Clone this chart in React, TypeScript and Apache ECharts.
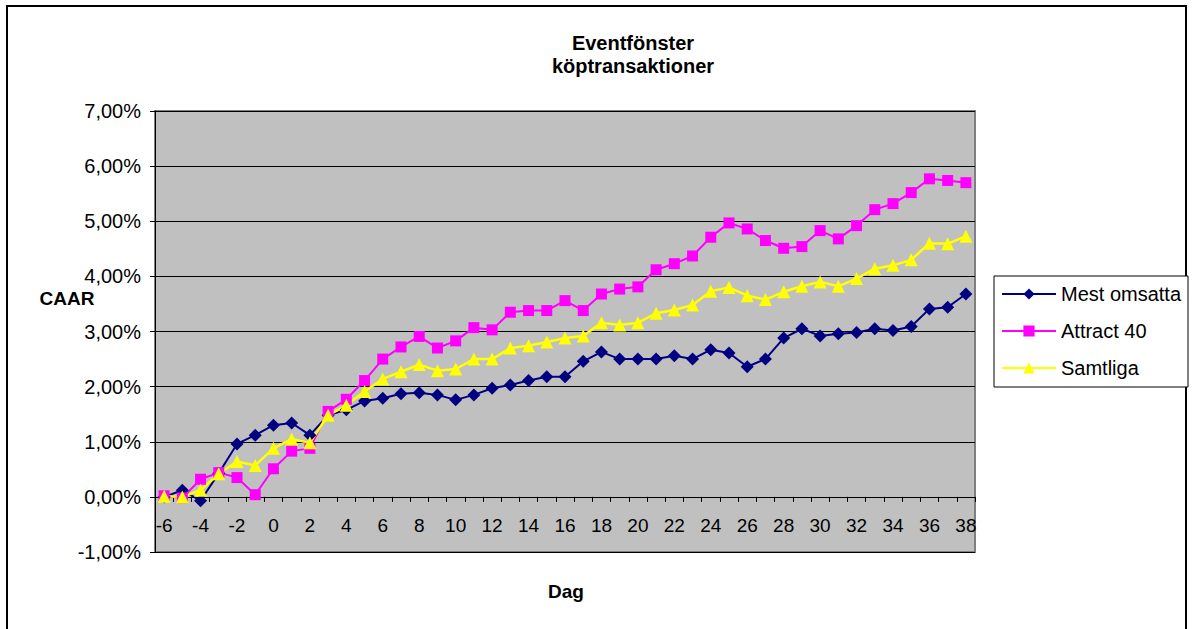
import React, { useEffect, useRef } from "react";
import * as echarts from "echarts";

const days = [
  "-6", "-5", "-4", "-3", "-2", "-1", "0", "1", "2", "3", "4", "5", "6", "7", "8",
  "9", "10", "11", "12", "13", "14", "15", "16", "17", "18", "19", "20", "21", "22",
  "23", "24", "25", "26", "27", "28", "29", "30", "31", "32", "33", "34", "35", "36",
  "37", "38",
];

const mestOmsatta = [
  0.0, 0.12, -0.07, 0.43, 0.96, 1.12, 1.3, 1.34, 1.12, 1.48, 1.58, 1.74, 1.79, 1.87, 1.89,
  1.85, 1.76, 1.85, 1.97, 2.03, 2.11, 2.18, 2.18, 2.46, 2.63, 2.5, 2.5, 2.5, 2.56,
  2.5, 2.67, 2.61, 2.36, 2.5, 2.88, 3.05, 2.92, 2.96, 2.98, 3.05, 3.02, 3.09, 3.41,
  3.44, 3.68,
];

const attract40 = [
  0.02, -0.02, 0.32, 0.44, 0.35, 0.04, 0.51, 0.83, 0.88, 1.55, 1.77, 2.11, 2.5, 2.72, 2.91,
  2.7, 2.83, 3.07, 3.03, 3.35, 3.38, 3.38, 3.56, 3.38, 3.68, 3.77, 3.81, 4.12, 4.23,
  4.37, 4.71, 4.97, 4.86, 4.65, 4.51, 4.54, 4.83, 4.68, 4.92, 5.21, 5.32, 5.52, 5.77,
  5.74, 5.7,
];

const samtliga = [
  0.01, 0.0, 0.12, 0.42, 0.64, 0.57, 0.88, 1.05, 0.98, 1.48, 1.66, 1.91, 2.14, 2.27, 2.4,
  2.29, 2.32, 2.5, 2.5, 2.7, 2.74, 2.81, 2.88, 2.92, 3.16, 3.12, 3.16, 3.33, 3.39,
  3.48, 3.73, 3.8, 3.65, 3.58, 3.72, 3.82, 3.9, 3.82, 3.96, 4.14, 4.2, 4.3, 4.6,
  4.59, 4.73,
];

const seriesNames = ["Mest omsatta", "Attract 40", "Samtliga"];

const FONT = "'Liberation Sans', Arial, sans-serif";

const Y_MIN = -1;
const Y_MAX = 7;
const GRID_TOP = 111;
const GRID_BOTTOM = 77;
const CHART_H = 629;

export default function App() {
  const ref = useRef<HTMLDivElement>(null);

  useEffect(() => {
    const chart = echarts.init(ref.current!, null, { renderer: "svg" });
    const gridH = CHART_H - GRID_TOP - GRID_BOTTOM;
    const zeroOffset = (gridH * (0 - Y_MIN)) / (Y_MAX - Y_MIN);
    chart.setOption({
      animation: false,
      backgroundColor: "#ffffff",
      textStyle: { fontFamily: FONT },
      title: {
        text: "Eventfönster\nköptransaktioner",
        left: 628,
        top: 26,
        textAlign: "center",
        textStyle: {
          fontFamily: FONT,
          fontSize: 20,
          fontWeight: "bold",
          color: "#000",
          lineHeight: 23,
        },
      },
      graphic: [
        {
          type: "rect",
          z: -1,
          shape: { x: 7, y: 6, width: 1179, height: 640 },
          style: { fill: "transparent", stroke: "#000", lineWidth: 2 },
        },
        {
          type: "rect",
          z: 0,
          shape: { x: 994, y: 276, width: 194, height: 111 },
          style: { fill: "#fff", stroke: "#000", lineWidth: 1 },
        },
        {
          type: "text",
          x: 67,
          y: 298,
          style: {
            text: "CAAR",
            fontFamily: FONT,
            fontSize: 19,
            fontWeight: "bold",
            fill: "#000",
            align: "center",
            verticalAlign: "middle",
          },
        },
        {
          type: "text",
          x: 566,
          y: 591,
          style: {
            text: "Dag",
            fontFamily: FONT,
            fontSize: 19,
            fontWeight: "bold",
            fill: "#000",
            align: "center",
            verticalAlign: "middle",
          },
        },
      ],
      legend: {
        orient: "vertical",
        left: 1001,
        top: 284,
        itemWidth: 54,
        itemHeight: 14,
        itemGap: 17,
        padding: 0,
        data: seriesNames,
        textStyle: {
          fontFamily: FONT,
          fontSize: 20,
          color: "#000",
          lineHeight: 20,
        },
      },
      grid: {
        left: 155,
        right: 217,
        top: GRID_TOP,
        bottom: GRID_BOTTOM,
        show: true,
        backgroundColor: "#C0C0C0",
        borderColor: "#808080",
        borderWidth: 2,
      },
      xAxis: {
        type: "category",
        data: days,
        boundaryGap: true,
        offset: -zeroOffset,
        axisLine: { show: true, onZero: false, lineStyle: { color: "#000", width: 1 } },
        axisTick: { show: true, interval: 0, length: 5, inside: false, lineStyle: { color: "#000" } },
        axisLabel: {
          interval: 1,
          color: "#000",
          fontSize: 19,
          fontFamily: FONT,
          margin: 19,
        },
        splitLine: { show: false },
      },
      yAxis: {
        type: "value",
        min: Y_MIN,
        max: Y_MAX,
        interval: 1,
        axisLine: { show: true, lineStyle: { color: "#000", width: 1 } },
        axisTick: { show: true, length: 5, lineStyle: { color: "#000" } },
        axisLabel: {
          color: "#000",
          fontSize: 20,
          fontFamily: FONT,
          margin: 14,
          formatter: (v: number) => v.toFixed(2).replace(".", ",") + "%",
        },
        splitLine: { show: true, lineStyle: { color: "#000", width: 1 } },
      },
      series: [
        {
          name: seriesNames[0],
          type: "line",
          data: mestOmsatta,
          symbol: "diamond",
          symbolSize: 13,
          showSymbol: true,
          showAllSymbol: true,
          color: "#000080",
          lineStyle: { color: "#000080", width: 2 },
          itemStyle: { color: "#000080" },
        },
        {
          name: seriesNames[1],
          type: "line",
          data: attract40,
          symbol: "rect",
          symbolSize: 11,
          showSymbol: true,
          showAllSymbol: true,
          color: "#FF00FF",
          lineStyle: { color: "#FF00FF", width: 2 },
          itemStyle: { color: "#FF00FF" },
        },
        {
          name: seriesNames[2],
          type: "line",
          data: samtliga,
          symbol: "triangle",
          symbolSize: 13,
          showSymbol: true,
          showAllSymbol: true,
          color: "#FFFF00",
          lineStyle: { color: "#FFFF00", width: 2.5 },
          itemStyle: { color: "#FFFF00" },
        },
      ],
    });
    return () => chart.dispose();
  }, []);

  return (
    <div
      ref={ref}
      style={{ position: "absolute", left: 0, top: 0, width: 1192, height: 629, background: "#fff" }}
    />
  );
}
